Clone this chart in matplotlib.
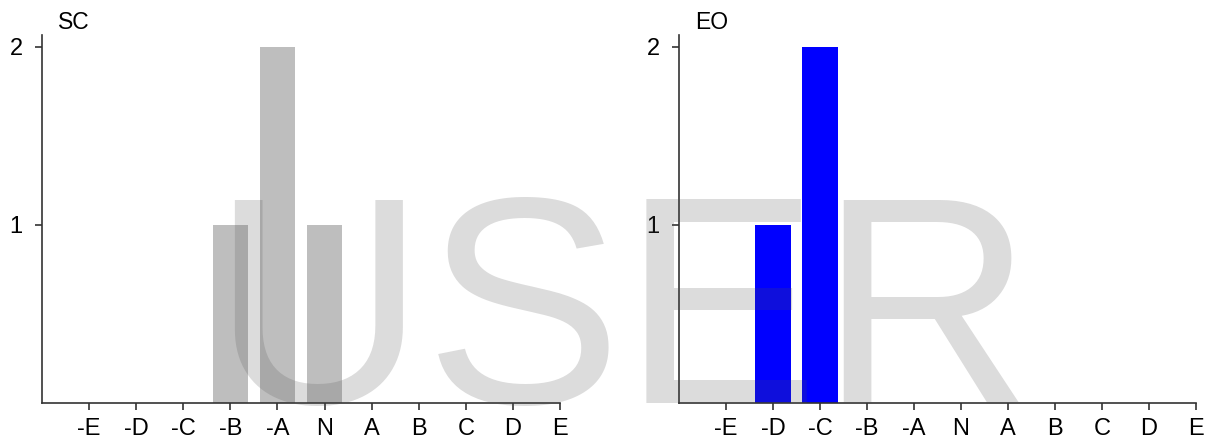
import numpy as np
import matplotlib
matplotlib.use('Agg')
import matplotlib.pyplot as plt

plt.rcParams['font.family'] = ['Liberation Sans', 'DejaVu Sans']

# response categories, from strongly negative to strongly positive
categories = ['-E', '-D', '-C', '-B', '-A', 'N', 'A', 'B', 'C', 'D', 'E']

# number of answers per category
sc_counts = [0, 0, 0, 1, 2, 1, 0, 0, 0, 0, 0]
eo_counts = [0, 1, 2, 0, 0, 0, 0, 0, 0, 0, 0]

panels = [('SC', sc_counts, '#bebebe'),
          ('EO', eo_counts, '#0000ff')]

W, H = 1211, 446
fig = plt.figure(figsize=(W / 100, H / 100), dpi=100)

# axes boxes in pixels: left, right, top, bottom
boxes = [(42, 560, 35, 403),
         (679, 1196, 35, 403)]

x = np.arange(len(categories))
for (name, counts, color), (l, r, t, b) in zip(panels, boxes):
    ax = fig.add_axes([l / W, (H - b) / H, (r - l) / W, (b - t) / H])
    ax.bar(x, counts, width=0.75, color=color, linewidth=0)
    ax.set_xlim(-1, len(categories) - 1)
    ax.set_ylim(0, 2.065)
    ax.set_xticks(x)
    ax.set_xticklabels(categories)
    ax.set_yticks([1, 2])
    ax.spines['top'].set_visible(False)
    ax.spines['right'].set_visible(False)
    for s in ('left', 'bottom'):
        ax.spines[s].set_color('#333333')
        ax.spines[s].set_linewidth(1.2)
    ax.tick_params(axis='both', direction='out', length=5, width=1.2,
                   color='#333333', labelsize=17, labelcolor='black')
    ax.tick_params(axis='y', pad=9)
    ax.tick_params(axis='x', pad=6)
    fig.text((l + 16) / W, (H - 29) / H, name, fontsize=16.5,
             ha='left', va='baseline')

# watermark across both panels
fig.text(622 / W, (H - 403) / H, 'USER', fontsize=213, color='#505050',
         alpha=0.2, ha='center', va='baseline', zorder=10)

fig.savefig('out.png', dpi=100)
